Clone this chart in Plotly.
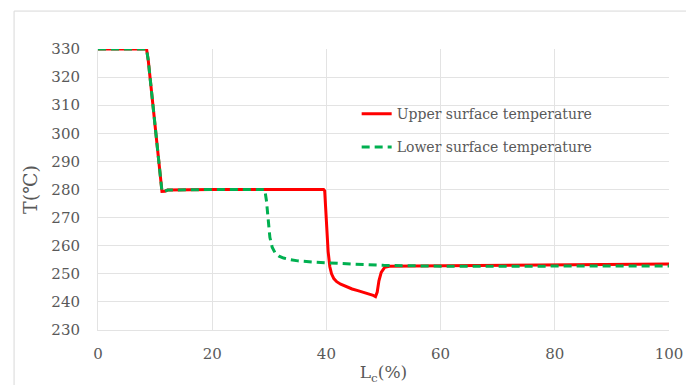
import plotly.graph_objects as go

# Data
upper_x = [0, 8.5, 8.8, 11.0, 11.2, 11.7, 12.2, 20, 30, 39.5, 39.7, 40.0, 40.3, 40.6, 40.9, 41.3, 41.8,
           42.5, 43.5, 44.5, 45.5, 46.5, 47.5, 48.2, 48.6, 48.9, 49.2, 49.6, 50.2, 51, 55, 60, 70, 80, 90, 100]
upper_y = [330, 330, 326, 281, 279.3, 279.4, 279.8, 280, 280, 280, 279.5, 268, 258, 252.5, 250.0, 248.3, 247.2,
           246.3, 245.4, 244.6, 244.0, 243.4, 242.9, 242.3, 241.9, 243.5, 247.5, 250.5, 252.3, 252.7,
           252.8, 252.9, 253.0, 253.2, 253.4, 253.5]

lower_x = [0, 8.5, 8.8, 11.0, 11.2, 11.7, 12.2, 20, 29.2, 29.5, 29.8, 30.1, 30.5, 31.0, 31.7, 32.5,
           33.5, 35, 37.5, 40, 45, 50, 55, 60, 70, 80, 90, 100]
lower_y = [330, 330, 326, 281, 279.3, 279.4, 279.8, 280, 280, 276, 269, 263, 259.5, 257.5, 256.3, 255.6,
           255.1, 254.6, 254.2, 253.9, 253.4, 253.0, 252.8, 252.7, 252.7, 252.7, 252.7, 252.8]

x_ticks = [0, 20, 40, 60, 80, 100]
y_ticks = [230, 240, 250, 260, 270, 280, 290, 300, 310, 320, 330]

FONT = "DejaVu Serif"
GRAY = "#595959"
GRID = "#e3e3e3"

fig = go.Figure()
fig.add_trace(go.Scatter(x=upper_x, y=upper_y, mode="lines", name="Upper surface temperature",
                         line=dict(color="#FF0000", width=3), legendgroup="a"))
fig.add_trace(go.Scatter(x=lower_x, y=lower_y, mode="lines", name="Lower surface temperature",
                         line=dict(color="#00B050", width=3, dash="8px,5px"), legendgroup="b"))

fig.update_layout(
    width=686, height=385,
    margin=dict(l=98, r=17, t=49, b=55, autoexpand=False),
    paper_bgcolor="white", plot_bgcolor="white",
    font=dict(family=FONT, color=GRAY, size=14),
    showlegend=True,
    legend=dict(x=0.453, y=0.825, xanchor="left", yanchor="top", bgcolor="rgba(0,0,0,0)",
                font=dict(family=FONT, size=14, color=GRAY), tracegroupgap=12,
                traceorder="grouped"),
    xaxis=dict(range=[0, 100], tickvals=x_ticks, showgrid=True, gridcolor=GRID, gridwidth=1,
               zeroline=False, showline=True, linecolor=GRID, ticks="", ticklabelstandoff=10,
               automargin=False,
               tickfont=dict(family=FONT, size=15, color=GRAY),
               title=dict(text="L<sub>c</sub>(%)", font=dict(family=FONT, size=17, color=GRAY), standoff=4)),
    yaxis=dict(range=[230, 330], tickvals=y_ticks, showgrid=True, gridcolor=GRID, gridwidth=1,
               zeroline=False, showline=True, linecolor=GRID, ticks="", ticklabelstandoff=14,
               automargin=False,
               tickfont=dict(family=FONT, size=15, color=GRAY),
               title=dict(text="T(℃)", font=dict(family=FONT, size=19, color=GRAY), standoff=8)),
)

fig.add_shape(type="rect", xref="paper", yref="paper", x0=-0.147, x1=1.05, y0=-0.22, y1=1.135,
              line=dict(color="#d9d9d9", width=1), fillcolor="rgba(0,0,0,0)", layer="below")

fig.write_html("out.html")
